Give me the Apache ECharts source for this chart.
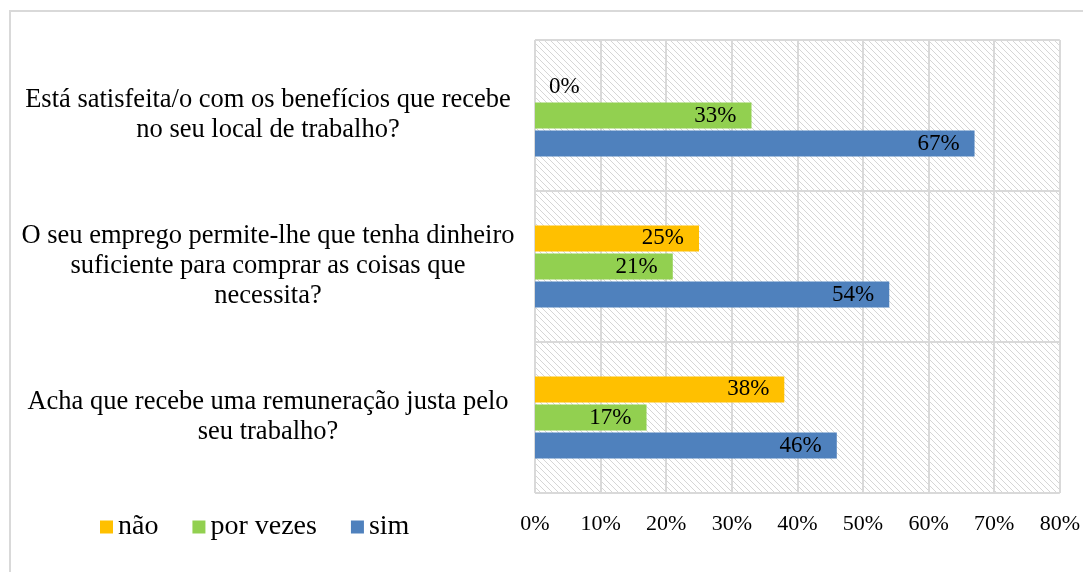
<!DOCTYPE html>
<html>
<head>
<meta charset="utf-8">
<script src="https://cdn.jsdelivr.net/npm/echarts@6/dist/echarts.min.js"></script>
<style>
    html, body { margin: 0; padding: 0; background: #fff; }
    #chart { width: 1083px; height: 572px; }
</style>
</head>
<body>
<div id="chart"></div>
<script>
// Chart data
const categories = [
    'Acha que recebe uma remuneração justa pelo\nseu trabalho?',
    'O seu emprego permite-lhe que tenha dinheiro\nsuficiente para comprar as coisas que\nnecessita?',
    'Está satisfeita/o com os benefícios que recebe\nno seu local de trabalho?'
];
const simValues = [46, 54, 67];
const porVezesValues = [17, 21, 33];
const naoValues = [38, 25, 0];
const xTicks = { min: 0, max: 80, interval: 10 };

const serif = '"Liberation Serif", "Times New Roman", serif';

// Diagonal hatch for the plot area
function makeHatch() {
    const c = document.createElement('canvas');
    c.width = 6;
    c.height = 6;
    const ctx = c.getContext('2d');
    ctx.fillStyle = '#ffffff';
    ctx.fillRect(0, 0, 6, 6);
    ctx.strokeStyle = '#d6d6d6';
    ctx.lineWidth = 1;
    ctx.beginPath();
    ctx.moveTo(-1, -1); ctx.lineTo(7, 7);
    ctx.moveTo(-1, 5); ctx.lineTo(1, 7);
    ctx.moveTo(5, -1); ctx.lineTo(7, 1);
    ctx.stroke();
    return c;
}

const chart = echarts.init(document.getElementById('chart'));

function barLabel() {
    return {
        show: true,
        position: 'insideRight',
        distance: 15,
        formatter: '{c}%',
        color: '#000',
        fontFamily: serif,
        fontSize: 23
    };
}

// value 0 has no room inside, show it to the right of the axis
const naoData = naoValues.map(v => v === 0
    ? { value: v, label: { position: 'right', distance: 14 } }
    : v);

const option = {
    animation: false,
    backgroundColor: '#fff',
    graphic: [{
        type: 'rect',
        shape: { x: 10, y: 11, width: 1100, height: 600 },
        style: { fill: 'none', stroke: '#d9d9d9', lineWidth: 2 },
        silent: true
    }],
    legend: {
        data: ['não', 'por vezes', 'sim'],
        left: 95,
        top: 508,
        itemWidth: 13,
        itemHeight: 13,
        itemGap: 34,
        icon: 'rect',
        textStyle: { fontFamily: serif, fontSize: 28, color: '#000' }
    },
    grid: {
        left: 535,
        right: 23,
        top: 40,
        bottom: 79,
        show: true,
        borderWidth: 0,
        backgroundColor: { image: makeHatch(), repeat: 'repeat' }
    },
    xAxis: {
        type: 'value',
        min: xTicks.min,
        max: xTicks.max,
        interval: xTicks.interval,
        axisLine: { show: false },
        axisTick: { show: false },
        splitLine: { show: true, lineStyle: { color: '#d9d9d9', width: 2 } },
        axisLabel: {
            formatter: '{value}%',
            color: '#000',
            fontFamily: serif,
            fontSize: 22,
            margin: 20
        }
    },
    yAxis: {
        type: 'category',
        data: categories,
        axisLine: { show: false },
        axisTick: { show: false },
        splitLine: { show: true, lineStyle: { color: '#d9d9d9', width: 2 } },
        axisLabel: {
            align: 'center',
            margin: 267,
            color: '#000',
            fontFamily: serif,
            fontSize: 26.5,
            lineHeight: 30,
            padding: [9, 0, 0, 0]
        }
    },
    series: [
        {
            name: 'não',
            type: 'bar',
            data: naoData,
            barWidth: 26,
            barGap: '8%',
            itemStyle: { color: '#ffc000' },
            label: barLabel()
        },
        {
            name: 'por vezes',
            type: 'bar',
            data: porVezesValues,
            barWidth: 26,
            barGap: '8%',
            itemStyle: { color: '#92d050' },
            label: barLabel()
        },
        {
            name: 'sim',
            type: 'bar',
            data: simValues,
            barWidth: 26,
            barGap: '8%',
            itemStyle: { color: '#4f81bd' },
            label: barLabel()
        }
    ]
};

chart.setOption(option);
</script>
</body>
</html>
